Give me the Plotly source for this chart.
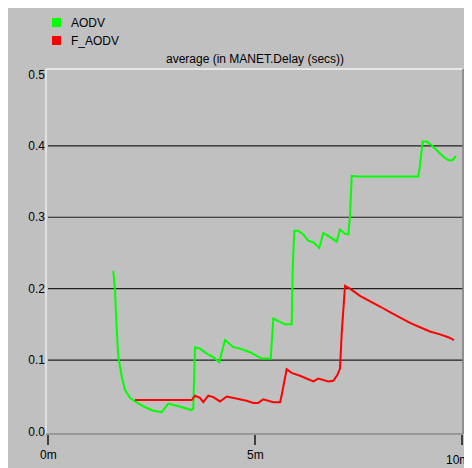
import plotly.graph_objects as go

# ---- data (time in minutes, delay in seconds) ----
series_names = ["AODV", "F_AODV"]
series_colors = ["#00FF00", "#FF0000"]

aodv_t = [1.570, 1.611, 1.652, 1.691, 1.773, 1.853, 1.973, 2.094, 2.295, 2.536,
          2.739, 2.819, 2.899, 3.101, 3.302, 3.464, 3.502, 3.543, 3.664, 3.826,
          3.986, 4.130, 4.268, 4.469, 4.630, 4.872, 5.155, 5.372, 5.435, 5.597,
          5.717, 5.879, 5.903, 5.942, 6.039, 6.159, 6.280, 6.401, 6.546, 6.643,
          6.763, 6.966, 7.046, 7.167, 7.246, 7.287, 7.329, 7.449, 8.937, 8.978,
          9.043, 9.140, 9.261, 9.382, 9.541, 9.662, 9.768, 9.848]
aodv_v = [0.225, 0.197, 0.142, 0.105, 0.077, 0.058, 0.047, 0.042, 0.035, 0.029,
          0.027, 0.033, 0.039, 0.036, 0.033, 0.030, 0.033, 0.118, 0.116, 0.109,
          0.104, 0.097, 0.128, 0.118, 0.116, 0.111, 0.102, 0.102, 0.158, 0.153,
          0.150, 0.150, 0.227, 0.281, 0.281, 0.276, 0.267, 0.265, 0.257, 0.278,
          0.274, 0.266, 0.283, 0.277, 0.276, 0.301, 0.358, 0.357, 0.357, 0.373,
          0.406, 0.406, 0.401, 0.394, 0.385, 0.380, 0.380, 0.386]

faodv_t = [2.094, 3.464, 3.543, 3.664, 3.744, 3.865, 3.986, 4.147, 4.309, 4.469,
           4.630, 4.792, 4.952, 5.072, 5.193, 5.314, 5.435, 5.597, 5.638, 5.758,
           5.879, 6.080, 6.242, 6.401, 6.522, 6.643, 6.763, 6.884, 6.981, 7.046,
           7.087, 7.167, 7.287, 7.529, 7.770, 8.012, 8.253, 8.495, 8.737, 8.978,
           9.220, 9.461, 9.662, 9.800]
faodv_v = [0.044, 0.044, 0.050, 0.047, 0.041, 0.050, 0.048, 0.042, 0.049, 0.047,
           0.046, 0.043, 0.040, 0.040, 0.045, 0.043, 0.041, 0.041, 0.051, 0.087,
           0.082, 0.078, 0.074, 0.070, 0.074, 0.072, 0.070, 0.071, 0.079, 0.088,
           0.137, 0.204, 0.200, 0.190, 0.183, 0.175, 0.167, 0.159, 0.152, 0.146,
           0.140, 0.136, 0.132, 0.128]

x_tick_vals = [0, 5, 10]
x_tick_text = ["0m", "5m", "10m"]
y_tick_vals = [0.0, 0.1, 0.2, 0.3, 0.4, 0.5]
y_tick_text = ["0.0", "0.1", "0.2", "0.3", "0.4", "0.5"]
grid_vals = [0.1, 0.2, 0.3, 0.4]
title_text = "average (in MANET.Delay (secs))"

# ---- layout geometry (pixels, figure coordinates; page body adds 8px offset) ----
W, H = 464, 460
L, R, T, B = 38, 455, 61, 426
pw, ph = R - L, B - T


def px(xp):
    return (xp - L) / pw


def py(yp):
    return (B - yp) / ph


GRAY = "#C0C0C0"
FONT = "Liberation Sans, Arial, sans-serif"

fig = go.Figure()
for name, color, xs, ys in [(series_names[0], series_colors[0], aodv_t, aodv_v),
                             (series_names[1], series_colors[1], faodv_t, faodv_v)]:
    fig.add_trace(go.Scatter(x=xs, y=ys, mode="lines", name=name,
                             line=dict(color=color, width=2), showlegend=False))

shapes = []
# gridlines
for g in grid_vals:
    shapes.append(dict(type="line", xref="paper", yref="y", x0=px(40), x1=1,
                       y0=g, y1=g, line=dict(color="#202020", width=1.2), layer="below"))
# plot borders
shapes.append(dict(type="line", xref="paper", yref="paper", x0=0, x1=1, y0=1, y1=1,
                   line=dict(color="#F4F4F4", width=1.5)))
shapes.append(dict(type="line", xref="paper", yref="paper", x0=0, x1=0, y0=0, y1=1,
                   line=dict(color="#ECECEC", width=1.5)))
shapes.append(dict(type="line", xref="paper", yref="paper", x0=1, x1=1, y0=0, y1=1,
                   line=dict(color="#808080", width=1.5)))
shapes.append(dict(type="line", xref="paper", yref="paper", x0=0, x1=1, y0=0, y1=0,
                   line=dict(color="#8C8C8C", width=1.5)))

annotations = []
# legend
for i, (name, color) in enumerate(zip(series_names, series_colors)):
    cy = 14.5 + 18 * i
    shapes.append(dict(type="rect", xref="paper", yref="paper",
                       x0=px(44), x1=px(53), y0=py(cy + 4.5), y1=py(cy - 4.5),
                       fillcolor=color, line=dict(width=0)))
    annotations.append(dict(text=name, xref="paper", yref="paper", x=px(61), y=py(cy),
                            xanchor="left", yanchor="middle", showarrow=False,
                            font=dict(family=FONT, size=12, color="#000000")))
# title
annotations.append(dict(text=title_text, xref="paper", yref="paper", x=0.5, y=py(50.5),
                        xanchor="center", yanchor="middle", showarrow=False,
                        font=dict(family=FONT, size=12, color="#000000")))
# last x tick label, kept fully inside the page at the right edge
annotations.append(dict(text=x_tick_text[-1], xref="paper", yref="paper", x=px(W - 1),
                        y=py(452), xanchor="right", yanchor="middle", showarrow=False,
                        font=dict(family=FONT, size=12, color="#000000")))

fig.update_layout(
    width=W, height=H,
    margin=dict(l=L, r=W - R, t=T, b=H - B, pad=0),
    paper_bgcolor=GRAY, plot_bgcolor=GRAY,
    font=dict(family=FONT, size=12, color="#000000"),
    shapes=shapes, annotations=annotations,
    showlegend=False,
    xaxis=dict(range=[-0.056, 10.017], tickvals=x_tick_vals,
               ticktext=x_tick_text[:-1] + [""],
               ticks="outside", ticklen=10, tickwidth=2, tickcolor="#404040",
               showgrid=False, zeroline=False, showline=False, automargin=False,
               tickfont=dict(family=FONT, size=12, color="#000000")),
    yaxis=dict(range=[-0.0036, 0.5077], tickvals=y_tick_vals, ticktext=y_tick_text,
               ticks="", showgrid=False, zeroline=False, showline=False, automargin=False,
               tickfont=dict(family=FONT, size=12, color="#000000")),
)

fig.write_html("out.html")
